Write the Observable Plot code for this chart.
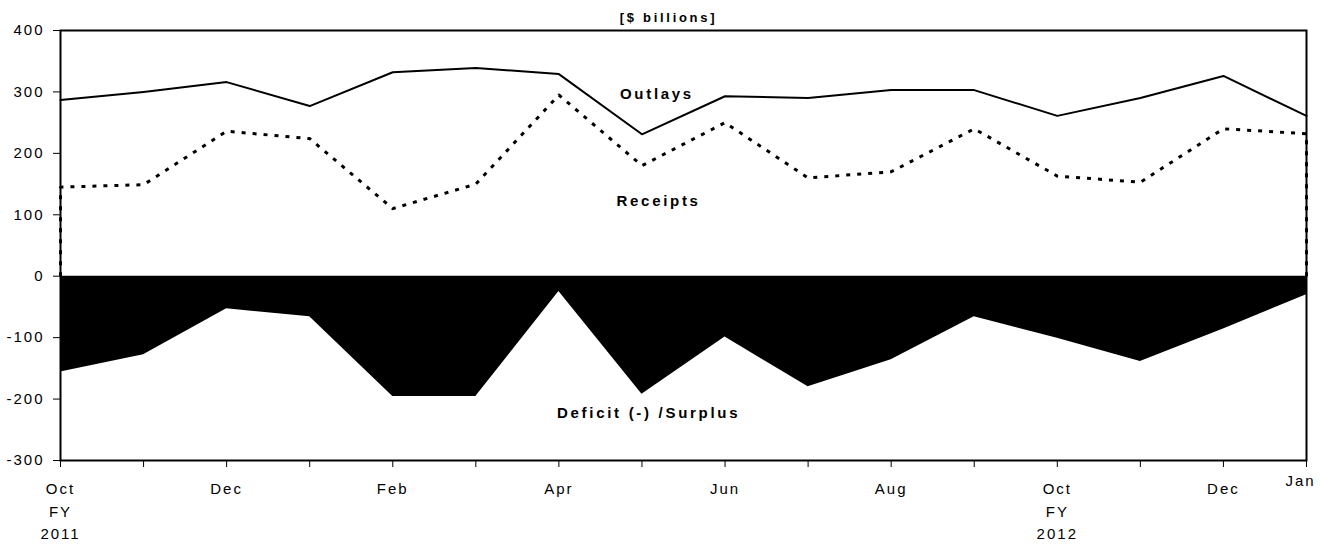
<!DOCTYPE html>
<html>
<head>
<meta charset="utf-8">
<script src="https://cdn.jsdelivr.net/npm/d3@7"></script>
<script src="https://cdn.jsdelivr.net/npm/@observablehq/plot@0.6"></script>
<style>
  html, body { margin: 0; padding: 0; background: #fff; }
  #chart svg { font-family: "Liberation Sans", Arial, sans-serif; }
  #chart svg text { letter-spacing: 2px; }
  #chart svg g[font-weight="bold"] text { letter-spacing: 2.7px; }
</style>
</head>
<body>
<div id="chart"></div>
<script>
// Months Oct FY2011 through Jan FY2012
const months = ["Oct","Nov","Dec","Jan","Feb","Mar","Apr","May","Jun","Jul","Aug","Sep","Oct","Nov","Dec","Jan"];
const monthLabels = ["Oct\nFY\n2011","","Dec","","Feb","","Apr","","Jun","","Aug","","Oct\nFY\n2012","","Dec","Jan"];
const outlays  = [287, 300, 316, 277, 332, 339, 329, 231, 293, 290, 303, 303, 261, 290, 326, 261];
const receipts = [145, 149, 236, 224, 110, 150, 295, 180, 250, 160, 170, 240, 163, 153, 240, 232];
const deficit  = [-156, -128, -53, -66, -196, -196, -25, -192, -99, -180, -136, -66, -101, -139, -86, -30];
const yTicks = [-300, -200, -100, 0, 100, 200, 300, 400];
const title = "[$ billions]";
const seriesNames = ["Outlays", "Receipts", "Deficit (-) /Surplus"];
// label anchor points in data coordinates (month index, value)
const seriesLabelAt = [[7.18, 296], [7.2, 122], [7.08, -223]];

const idx = months.map((_, i) => i);
const outData = idx.map(i => ({i, v: outlays[i]}));
const recData = [{i: 0, v: 0}, ...idx.map(i => ({i, v: receipts[i]})), {i: idx.length - 1, v: 0}];
const defData = idx.map(i => ({i, v: deficit[i]}));
const labelData = seriesNames.map((name, k) => ({name, i: seriesLabelAt[k][0], v: seriesLabelAt[k][1]}));
const xLab = idx.map(i => ({i, t: monthLabels[i]}));
const last = idx.length - 1;

const chart = Plot.plot({
  width: 1320,
  height: 546,
  marginLeft: 60,
  marginRight: 14,
  marginTop: 30,
  marginBottom: 86,
  style: {fontFamily: '"Liberation Sans", Arial, sans-serif', fontSize: "15px", color: "#000", background: "#fff"},
  x: {type: "linear", domain: [0, last]},
  y: {domain: [-300, 400]},
  marks: [
    Plot.areaY(defData, {x: "i", y: "v", fill: "#000", curve: "linear"}),
    Plot.line(recData, {x: "i", y: "v", stroke: "#000", strokeWidth: 3, strokeDasharray: "4,7", strokeLinecap: "butt"}),
    Plot.line(outData, {x: "i", y: "v", stroke: "#000", strokeWidth: 2}),
    Plot.frame({stroke: "#000", strokeWidth: 2}),
    Plot.axisY({ticks: yTicks, tickSize: 7, tickPadding: 9, label: null, fontSize: 15, tickFormat: d => String(d)}),
    Plot.axisX({ticks: idx, tickSize: 7, tickFormat: () => "", label: null}),
    Plot.text(xLab.filter(d => d.i !== last), {x: "i", y: () => -300, text: "t", dy: 18, lineAnchor: "top", lineHeight: 1.5, fontSize: 15}),
    Plot.text(xLab.filter(d => d.i === last), {x: "i", y: () => -300, text: "t", dx: -6, dy: 15, lineAnchor: "top", fontSize: 15}),
    Plot.text(labelData, {x: "i", y: "v", text: "name", fontSize: 15, fontWeight: "bold"}),
    Plot.text([title], {frameAnchor: "top", dx: -15, dy: -18, fontSize: 13, fontWeight: "bold"})
  ]
});
document.getElementById("chart").appendChild(chart);
</script>
</body>
</html>
